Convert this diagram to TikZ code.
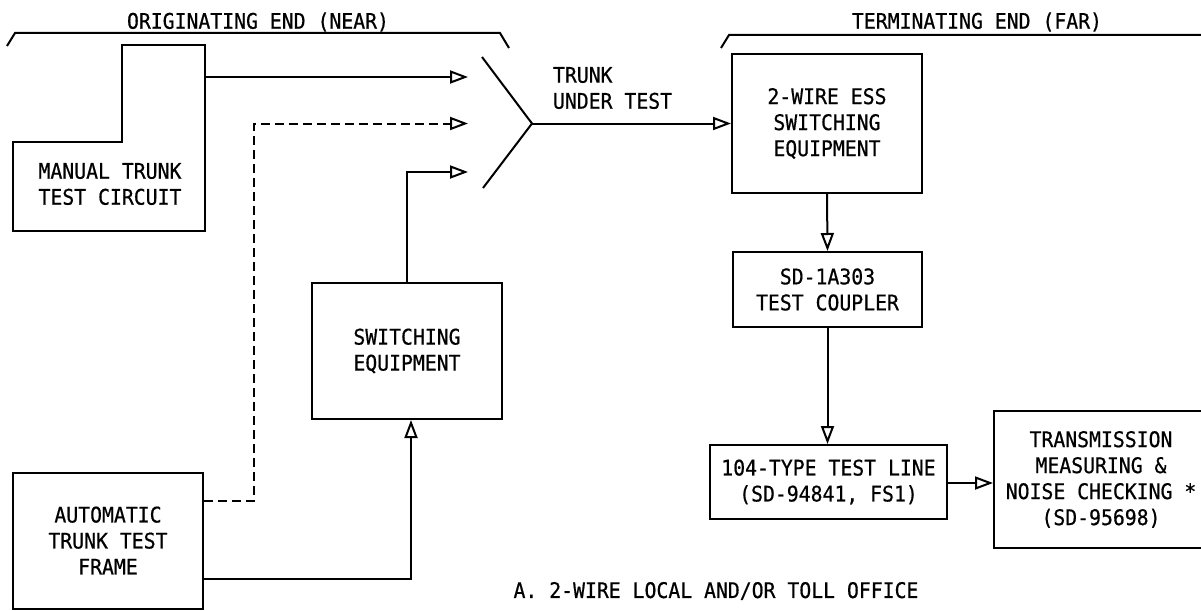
\documentclass[tikz,border=0pt]{standalone}
\usepackage{fontspec}
\setmonofont[FakeStretch=0.92,FakeBold=0.6]{DejaVu Sans Mono}
\usetikzlibrary{arrows.meta}
\begin{document}
\begin{tikzpicture}[x=1pt,y=-1pt,line width=2pt,
  lbl/.style={font=\ttfamily\fontsize{21.5}{26}\selectfont,align=center,inner sep=0pt},
  box/.style={draw,lbl},
  arr/.style={-{Triangle[open,length=18pt,width=13pt,line width=2pt]}},
  dsh/.style={dash pattern=on 9pt off 5pt}]
\useasboundingbox (0,0) rectangle (1201,610);

% brackets
\draw (7,46) -- (15,33) -- (500,33) -- (509,48);
\draw (721,48) -- (729,35) -- (1210,35);
\node[lbl] (orig) at (258,22) {ORIGINATING END (NEAR)};
\node[lbl] (term) at (977,22) {TERMINATING END (FAR)};

% manual trunk test circuit (L shape)
\draw (13,142) -- (122,142) -- (122,45) -- (205,45) -- (205,231) -- (13,231) -- cycle;
\node[lbl] (manual) at (110,184) {MANUAL TRUNK\\TEST CIRCUIT};
\coordinate (manR) at (205,77);

% other boxes
\node[box,minimum width=190pt,minimum height=136pt] (attf) at (108,540.5) {AUTOMATIC\\TRUNK TEST\\FRAME};
\node[box,minimum width=190pt,minimum height=136pt] (sw) at (407,351) {SWITCHING\\EQUIPMENT};
\node[box,minimum width=190pt,minimum height=139pt] (ess) at (827,123.5) {2-WIRE ESS\\SWITCHING\\EQUIPMENT};
\node[box,minimum width=189pt,minimum height=75pt] (sd) at (827.5,289.5) {SD-1A303\\TEST COUPLER};
\node[box,minimum width=237pt,minimum height=74pt] (tl) at (828.5,482) {104-TYPE TEST LINE\\(SD-94841, FS1)};
\node[box,minimum width=214pt,minimum height=137pt] (tm) at (1101,479.5) {TRANSMISSION\\MEASURING \&\\NOISE CHECKING *\\(SD-95698)};

% trunk fan
\coordinate (fanT) at (482,57);
\coordinate (fanV) at (532,123.5);
\coordinate (fanB) at (483,188);
\draw (fanT) -- (fanV) -- (fanB);
\coordinate (in1) at (468,77);
\coordinate (in2) at (468,123.5);
\coordinate (in3) at (468,172);
\node[lbl,align=left,anchor=west] (trunk) at (552,88) {TRUNK\\UNDER TEST};

% connectors
\draw[arr] (manR) -- (in1);
\draw[arr,dsh] (attf.east |- 0,501) -| (254,123.5) -- (in2);
\draw[arr] (sw.north) |- (in3);
\draw[arr] (attf.east |- 0,579) -| (411,0 |- sw.south);
\draw[arr] (fanV) -- (fanV -| ess.west);
\draw[arr] (ess.south) -- (sd.north);
\draw[arr] (sd.south) -- (sd.south |- tl.north);
\draw[arr] (tl.east |- 0,483) -- (tm.west |- 0,483);

\node[lbl] (cap) at (716,591) {A. 2-WIRE LOCAL AND/OR TOLL OFFICE};
\end{tikzpicture}
\end{document}
